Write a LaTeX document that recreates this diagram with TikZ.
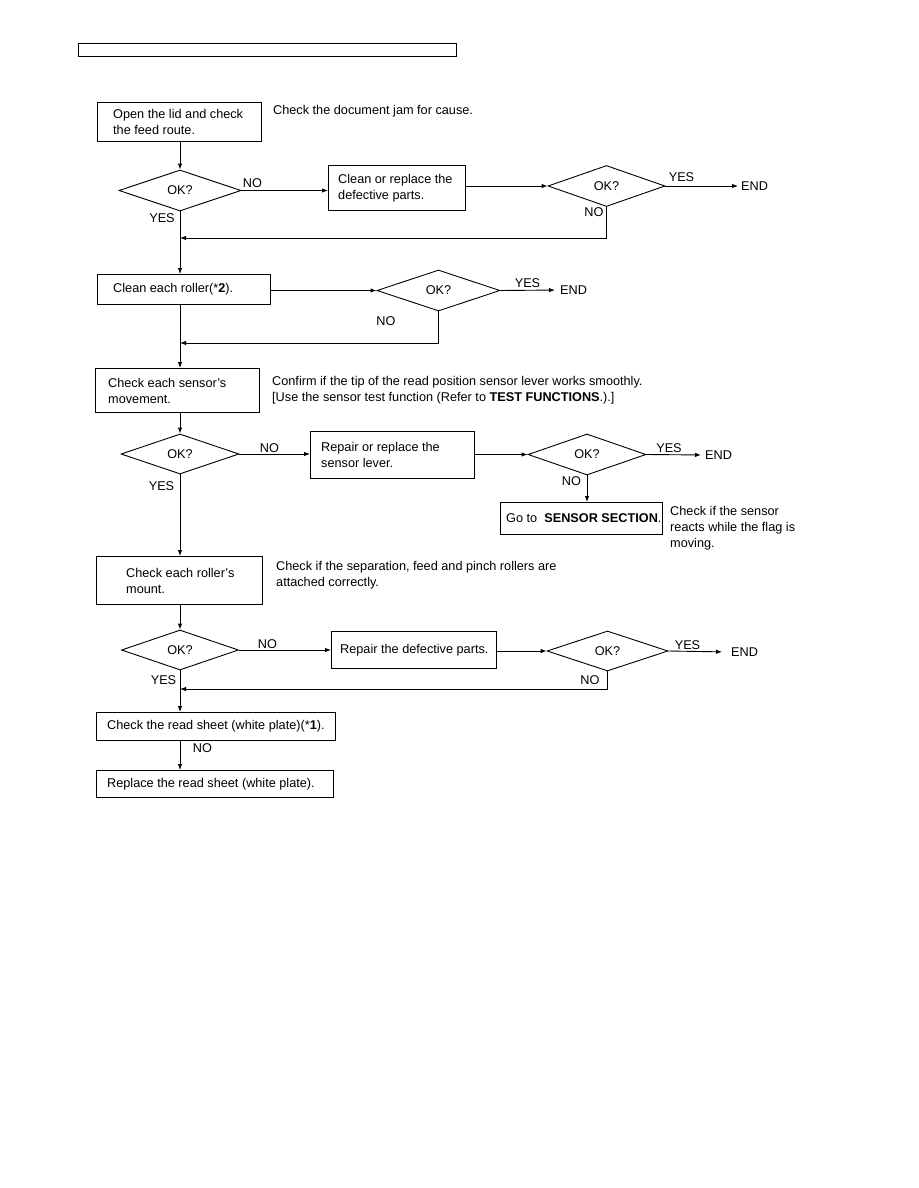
\documentclass[tikz,border=0pt]{standalone}
\usepackage{fontspec}
\setmainfont{Liberation Sans}
\usetikzlibrary{shapes.geometric,arrows.meta}
\tikzset{
  every node/.style={font=\fontsize{12.7}{16}\selectfont},
  box/.style={draw, line width=1pt, anchor=north west, inner sep=0pt},
  inlbl/.style={anchor=west, align=left, inner sep=0pt},
  dia/.style={draw, line width=0.9pt, shape=diamond, inner sep=0pt},
  lbl/.style={inner sep=0pt},
  side/.style={anchor=west, align=left, inner sep=0pt},
  flow/.style={line width=0.9pt, -{Latex[length=6pt,width=4.5pt]}},
}
\begin{document}
\begin{tikzpicture}[x=1pt,y=-1pt]
\useasboundingbox (0,0) rectangle (918,1188);
\coordinate (col) at (180,0);
% header
\node[box, line width=1.2pt, minimum width=378pt, minimum height=13pt] (hdr) at (78,43) {};

% row 1
\node[box, minimum width=164pt, minimum height=39pt,
  label={[inlbl, xshift=16pt]west:{Open the lid and check\\the feed route.}}] (b1) at (97,102) {};
\node[side] (s1) at (273,111) {Check the document jam for cause.};
\node[dia, minimum width=122pt, minimum height=41pt] (d1) at (180,190.5) {OK?};
\node[box, minimum width=137pt, minimum height=45pt,
  label={[inlbl, xshift=10pt]west:{Clean or replace the\\defective parts.}}] (b2) at (328,165) {};
\node[dia, minimum width=117pt, minimum height=41pt] (d2) at (606.5,186) {OK?};
\node[lbl, anchor=west] (e2) at (741,186) {END};
\node[lbl] (n1) at (252.5,183) {NO};
\node[lbl] (y1) at (162,218) {YES};
\node[lbl] (y2) at (681.5,177) {YES};
\node[lbl] (n2) at (594,212) {NO};
\coordinate (j1) at (180,238);

% row 2
\node[box, minimum width=173pt, minimum height=30pt,
  label={[inlbl, xshift=16pt]west:{Clean each roller(*\textbf{2}).}}] (b3) at (97,274) {};
\node[dia, minimum width=123pt, minimum height=41pt] (d3) at (438.5,290.5) {OK?};
\node[lbl, anchor=west] (e3) at (560,290) {END};
\node[lbl] (y3) at (527.5,283) {YES};
\node[lbl] (n3) at (386,321) {NO};
\coordinate (j2) at (180,343);

% row 3
\node[box, minimum width=164pt, minimum height=44pt,
  label={[inlbl, xshift=13pt]west:{Check each sensor's\\movement.}}] (b4) at (95,368) {};
\node[side] (s4) at (272,390) {Confirm if the tip of the read position sensor lever works smoothly.\\{[}Use the sensor test function (Refer to \textbf{TEST FUNCTIONS}.).{]}};
\node[dia, minimum width=118pt, minimum height=40pt] (d4) at (180,454) {OK?};
\node[box, minimum width=164pt, minimum height=47pt,
  label={[inlbl, xshift=11pt]west:{Repair or replace the\\sensor lever.}}] (b5) at (310,431) {};
\node[dia, minimum width=118pt, minimum height=41pt] (d5) at (587,454.5) {OK?};
\node[lbl, anchor=west] (e5) at (705,455) {END};
\node[lbl] (n4) at (269.5,448) {NO};
\node[lbl] (y4) at (161.5,486) {YES};
\node[lbl] (y5) at (669,448) {YES};
\node[lbl] (n5) at (571.5,481) {NO};
\node[box, minimum width=162pt, minimum height=32pt,
  label={[inlbl, xshift=6pt]west:{Go to\ \ \textbf{SENSOR SECTION}.}}] (b6) at (500,502) {};
\node[side] (s6) at (670,528) {Check if the sensor\\reacts while the flag is\\moving.};

% row 4
\node[box, minimum width=166pt, minimum height=48pt,
  label={[inlbl, xshift=30pt]west:{Check each roller's\\mount.}}] (b7) at (96,556) {};
\node[side] (s7) at (276,575) {Check if the separation, feed and pinch rollers are\\attached correctly.};
\node[dia, minimum width=117pt, minimum height=40pt] (d6) at (180,650) {OK?};
\node[box, minimum width=165pt, minimum height=37pt,
  label={[inlbl, xshift=9pt]west:{Repair the defective parts.}}] (b8) at (331,631) {};
\node[dia, minimum width=121pt, minimum height=40pt] (d7) at (607.5,651) {OK?};
\node[lbl, anchor=west] (e7) at (731,652) {END};
\node[lbl] (n6) at (267.5,644) {NO};
\node[lbl] (y6) at (163.5,680) {YES};
\node[lbl] (y7) at (687.5,645) {YES};
\node[lbl] (n7) at (590,680) {NO};
\coordinate (j3) at (180,689);

% final
\node[box, minimum width=239pt, minimum height=28pt,
  label={[inlbl, xshift=11pt]west:{Check the read sheet (white plate)(*\textbf{1}).}}] (b9) at (96,712) {};
\node[lbl] (n8) at (202.5,748) {NO};
\node[box, minimum width=237pt, minimum height=27pt,
  label={[inlbl, xshift=11pt]west:{Replace the read sheet (white plate).}}] (b10) at (96,770) {};

% connectors
\draw[flow] (b1.south -| col) -- (d1.north);
\draw[flow] (d1.east) -- (d1.east -| b2.west);
\draw[flow] (d2.west -| b2.east) -- (d2.west);
\draw[flow, shorten >=3pt] (d2.east) -- (e2.west);
\draw[flow] (d2.south) -- (d2.south |- j1) -- (j1);
\draw[flow] (d1.south) -- (d1.south |- b3.north);

\draw[flow] (d3.west -| b3.east) -- (d3.west);
\draw[flow, shorten >=5pt] (d3.east) -- (e3.west);
\draw[flow] (d3.south) -- (d3.south |- j2) -- (j2);
\draw[flow] (b3.south -| col) -- (b4.north -| col);

\draw[flow] (b4.south -| col) -- (d4.north);
\draw[flow] (d4.east) -- (d4.east -| b5.west);
\draw[flow] (d5.west -| b5.east) -- (d5.west);
\draw[flow, shorten >=4pt] (d5.east) -- (e5.west);
\draw[flow] (d5.south) -- (d5.south |- b6.north);
\draw[flow] (d4.south) -- (d4.south |- b7.north);

\draw[flow] (b7.south -| col) -- (d6.north);
\draw[flow] (d6.east) -- (d6.east -| b8.west);
\draw[flow] (d7.west -| b8.east) -- (d7.west);
\draw[flow, shorten >=9pt] (d7.east) -- (e7.west);
\draw[flow] (d7.south) -- (d7.south |- j3) -- (j3);
\draw[flow] (d6.south) -- (d6.south |- b9.north);
\draw[flow] (b9.south -| col) -- (b10.north -| col);
\end{tikzpicture}
\end{document}
